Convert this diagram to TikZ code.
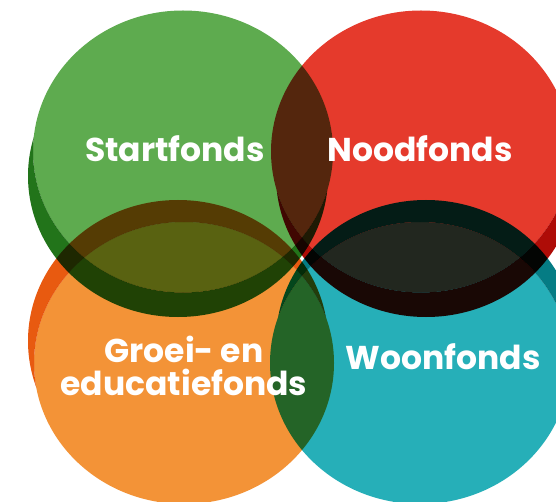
\documentclass[tikz,border=0pt]{standalone}
\usepackage{fontspec}
\newfontfamily\fundfont{Poppins}
\definecolor{grLight}{HTML}{5EAB4F}
\definecolor{grDark}{HTML}{22741A}
\definecolor{rdLight}{HTML}{E53A2C}
\definecolor{rdDark}{HTML}{AE0C07}
\definecolor{orLight}{HTML}{F39337}
\definecolor{orDark}{HTML}{E85A10}
\definecolor{tlLight}{HTML}{26AFB8}
\definecolor{tlDark}{HTML}{057C84}
\begin{document}
\begin{tikzpicture}[x=1pt,y=-1pt,
    fund/.style={text=white,align=center,font=\fundfont\bfseries\fontsize{33}{33}\selectfont}]
\fill[white] (0,0) rectangle (556,502);
\useasboundingbox (0,0) rectangle (556,502);
\begin{scope}
    \clip (0,0) rectangle (556,502);
    \foreach \bx/\by/\dx/\dy/\lt/\dk in {183/151.5/178/176/grLight/grDark, 421/151.5/426/176/rdLight/rdDark, 184/363/178/341/orLight/orDark, 420/363/426/341/tlLight/tlDark}
    {
        \begin{scope}
            \clip (\dx,\dy) ellipse [x radius=150, y radius=141];
            \fill[\dk, even odd rule, blend mode=multiply] (0,0) rectangle (556,502) (\bx,\by) ellipse [x radius=150, y radius=141];
        \end{scope}
        \fill[\lt, blend mode=multiply] (\bx,\by) ellipse [x radius=150, y radius=141];
    }
\end{scope}
\node[fund, anchor=base] (start) at (175,162) {Startfonds};
\node[fund, anchor=base] (nood) at (420,162) {Noodfonds};
\node[fund] (groei) at (184,366) {Groei- en\\educatiefonds};
\node[fund, anchor=base] (woon) at (443,369) {Woonfonds};
\end{tikzpicture}
\end{document}
